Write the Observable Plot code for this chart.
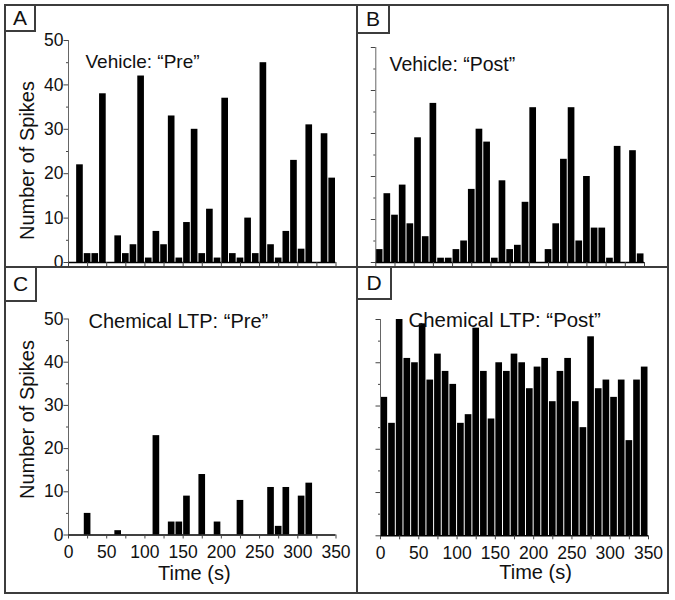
<!DOCTYPE html>
<html>
<head>
<meta charset="utf-8">
<script src="https://cdn.jsdelivr.net/npm/d3@7"></script>
<script src="https://cdn.jsdelivr.net/npm/@observablehq/plot@0.6"></script>
<style>
  body { margin: 0; background: white; }
  #chart { position: relative; width: 675px; height: 600px; background: white; font-family: "Liberation Sans", Arial, sans-serif; }
  #chart .panel { position: absolute; }
  #chart .ticklab text, #chart g[aria-label$="tick label"] text { font-size: 17.5px !important; font-family: "Liberation Sans", Arial, sans-serif; }
  .line { position: absolute; background: #3c3c3c; }
  .letter { position: absolute; box-sizing: border-box; border: 2px solid #3c3c3c; background: white;
            display: flex; align-items: center; justify-content: center; font-size: 21px; color: #111; }
</style>
</head>
<body>
<div id="chart"></div>
<script>
// ---- data (spikes per 10 s bin, bins start at these times) ----
const binStarts = [0,10,20,30,40,50,60,70,80,90,100,110,120,130,140,150,160,170,180,190,200,210,220,230,240,250,260,270,280,290,300,310,320,330,340];
const vehiclePre  = [0,22,2,2,38,0,6,2,4,42,1,7,4,33,1,9,30,2,12,1,37,2,1,10,2,45,4,1,7,23,3,31,0,29,19];
const vehiclePost = [3,16,11,18,9,29,6,37,1,1,3,5,17,31,28,1,19,3,4,14,36,0,3,9,24,36,5,20,8,8,1,27,0,26,2];
const ltpPre      = [0,0,5,0,0,0,1,0,0,0,0,23,0,3,3,9,0,14,0,3,0,0,8,0,0,0,11,2,11,0,9,12,0,0,0];
const ltpPost     = [32,26,50,41,40,49,36,42,38,35,26,28,48,38,27,40,38,42,40,34,39,41,31,38,41,31,25,46,34,36,32,36,22,36,39];
const binWidth = 10;
const xTicks = [0,25,50,75,100,125,150,175,200,225,250,275,300,325,350];
const yMajor = [0,10,20,30,40,50];
const yMinor = [5,15,25,35,45];
const titles = ["Vehicle: \u201cPre\u201d", "Vehicle: \u201cPost\u201d", "Chemical LTP: \u201cPre\u201d", "Chemical LTP: \u201cPost\u201d"];
const yLabel = "Number of Spikes";
const xLabel = "Time (s)";
const letters = ["A", "B", "C", "D"];

const table = arr => binStarts.map((t, i) => ({t, n: arr[i]})).filter(d => d.n > 0);

function panel(cfg) {
  const marks = [
    Plot.rectY(table(cfg.values), {x1: "t", x2: d => d.t + binWidth, y: "n", fill: "black", insetLeft: 0.5, insetRight: 0.5}),
    Plot.ruleX([0], {stroke: "#666", strokeWidth: 1}),
    Plot.ruleY([0], {stroke: "black", strokeWidth: 1.5}),
    Plot.axisY({ticks: yMajor, tickSize: 4.5, tickPadding: 0.5, stroke: "#444", fill: "#111", fontSize: 17.5, className: "ticklab",
                tickFormat: cfg.yLabels ? d => d : () => "", label: null}),
    Plot.axisY({ticks: yMinor, tickSize: 2, stroke: "#444", tickFormat: () => "", label: null}),
    Plot.axisX({ticks: xTicks, tickSize: 4, tickPadding: 7, stroke: "#444", fill: "#111", fontSize: 17.5, className: "ticklab",
                tickFormat: cfg.xLabels ? d => (d % 50 === 0 ? d : "") : () => "", label: null}),
    Plot.text([cfg.title], {text: d => d, frameAnchor: "top-left", textAnchor: "start", lineAnchor: "middle",
               dx: cfg.titleDx, dy: cfg.titleDy, fontSize: cfg.titleSize, fill: "#111"})
  ];
  if (cfg.yLabels) {
    marks.push(Plot.text([yLabel], {text: d => d, frameAnchor: "left", rotate: -90, textAnchor: "middle", lineAnchor: "middle",
               dx: -41.4, dy: cfg.yLabelDy, fontSize: 20, fill: "#111"}));
  }
  if (cfg.xLabels) {
    marks.push(Plot.text([xLabel], {text: d => d, frameAnchor: "bottom", textAnchor: "middle", lineAnchor: "middle",
               dx: cfg.xLabelDx, dy: cfg.xLabelDy, fontSize: 20, fill: "#111"}));
  }
  const svg = Plot.plot({
    width: cfg.width, height: cfg.height,
    marginLeft: cfg.ml, marginRight: cfg.mr, marginTop: cfg.mt, marginBottom: cfg.mb,
    x: {domain: [0, 350], axis: null},
    y: {domain: [0, 50], axis: null},
    style: {fontFamily: "'Liberation Sans', Arial, sans-serif", fontSize: "17px", background: "transparent", overflow: "visible", color: "#111"},
    marks
  });
  svg.classList.add("panel");
  svg.style.left = cfg.left + "px";
  svg.style.top = cfg.top + "px";
  svg.style.maxWidth = "none";
  return svg;
}

const chart = document.getElementById("chart");
chart.append(panel({values: vehiclePre, title: titles[0], left: 0, top: 0, width: 340, height: 267,
  ml: 68, mr: 4.5, mt: 40, mb: 5, titleDx: 17, titleDy: 21, titleSize: 19, yLabels: true, xLabels: false, yLabelDy: 9}));
chart.append(panel({values: vehiclePost, title: titles[1], left: 340, top: 0, width: 335, height: 267,
  ml: 35.3, mr: 31, mt: 47, mb: 5, titleDx: 13.7, titleDy: 16.8, titleSize: 19.5, yLabels: false, xLabels: false}));
chart.append(panel({values: ltpPre, title: titles[2], left: 0, top: 267, width: 340, height: 333,
  ml: 68, mr: 4.5, mt: 51.5, mb: 65.5, titleDx: 20, titleDy: 2.1, titleSize: 20, yLabels: true, xLabels: true,
  yLabelDy: -7.5, xLabelDx: -8, xLabelDy: 39}));
chart.append(panel({values: ltpPost, title: titles[3], left: 340, top: 267, width: 335, height: 333,
  ml: 40, mr: 27, mt: 52, mb: 64.7, titleDx: 28, titleDy: 0.5, titleSize: 20.4, yLabels: false, xLabels: true,
  xLabelDx: 21, xLabelDy: 36.6}));

// frame lines
function line(l, t, w, h) {
  const d = document.createElement("div");
  d.className = "line";
  Object.assign(d.style, {left: l + "px", top: t + "px", width: w + "px", height: h + "px"});
  chart.append(d);
}
line(4, 4, 665, 2);     // top
line(4, 592, 665, 2);   // bottom
line(4, 4, 2, 590);     // left
line(667, 4, 2, 590);   // right
line(356, 4, 2, 590);   // vertical divider
line(4, 266, 665, 2);   // horizontal divider

const boxes = [[4, 4, 32, 28], [356, 4, 34, 30], [4, 266, 33, 36], [356, 266, 36, 34]];
boxes.forEach(([l, t, w, h], i) => {
  const d = document.createElement("div");
  d.className = "letter";
  Object.assign(d.style, {left: l + "px", top: t + "px", width: w + "px", height: h + "px"});
  d.textContent = letters[i];
  chart.append(d);
});
</script>
</body>
</html>
